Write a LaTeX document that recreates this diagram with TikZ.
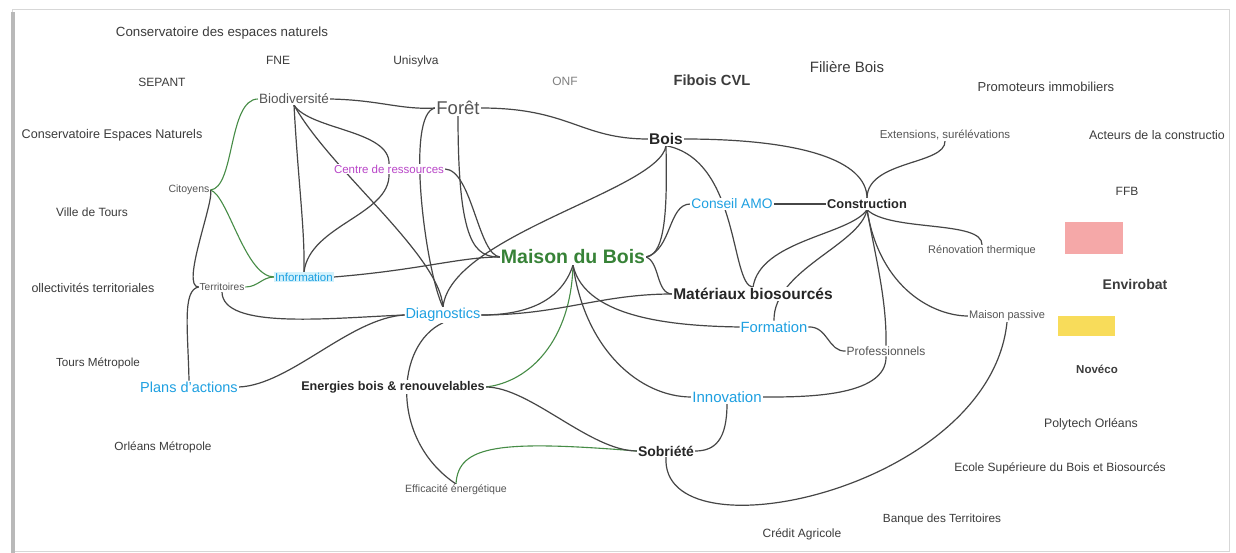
\documentclass[tikz,border=0pt]{standalone}
\usepackage{fontspec}
\setmainfont{Liberation Sans}
\newcommand{\fsz}[1]{\fontsize{#1}{#1}\selectfont}
\definecolor{peritext}{RGB}{60,60,60}
\definecolor{mmgray}{RGB}{85,85,85}
\definecolor{linkgray}{RGB}{70,70,70}
\definecolor{linkgreen}{RGB}{70,140,70}
\definecolor{mmblue}{RGB}{30,160,225}
\definecolor{mmpurple}{RGB}{185,70,200}
\definecolor{mmgreen}{RGB}{55,130,55}
\definecolor{infobg}{RGB}{212,242,252}
\definecolor{pinknote}{RGB}{245,168,168}
\definecolor{yellownote}{RGB}{248,220,90}
\definecolor{framegray}{RGB}{215,215,215}
\definecolor{framebar}{RGB}{185,185,185}
\pgfdeclarelayer{background}
\pgfsetlayers{background,main}
\begin{document}
\begin{tikzpicture}[x=1pt,y=-1pt,
  every node/.style={inner sep=1pt, outer sep=0pt},
  peri/.style={text=peritext, font=\fsz{12}},
  mm/.style={fill=white, inner sep=1pt},
  link/.style={draw=linkgray, line width=1.2pt},
  glink/.style={draw=linkgreen, line width=1.1pt}]
\useasboundingbox (0,0) rectangle (1236,553);

% peripheral texts
\node[peri, font=\fsz{13.3}] (consv) at (222,33) {Conservatoire des espaces naturels};
\node[peri] (fne) at (278,60) {FNE};
\node[peri] (unis) at (416,61) {Unisylva};
\node[peri] (sepant) at (162,82) {SEPANT};
\node[peri, text=gray] (onf) at (565,81) {ONF};
\node[peri, font=\bfseries\fsz{14.7}] (fibois) at (712,80) {Fibois CVL};
\node[peri, font=\fsz{15}] (filiere) at (847,67) {Filière Bois};
\node[peri, font=\fsz{13}] (promo) at (1046,87) {Promoteurs immobiliers};
\node[peri, font=\fsz{12.6}] (consEN) at (112,135) {Conservatoire Espaces Naturels};
\node[peri, font=\fsz{12.4}] (acteurs) at (1157,135) {Acteurs de la constructio};
\node[peri] (ffb) at (1127,191) {FFB};
\node[peri] (ville) at (92,212) {Ville de Tours};
\node[peri, font=\fsz{12.5}] (collect) at (93,288) {ollectivités territoriales};
\node[peri, font=\fsz{11.7}] (toursM) at (98,363) {Tours Métropole};
\node[peri, font=\fsz{11.8}] (orleansM) at (163,447) {Orléans Métropole};
\node[peri, font=\bfseries\fsz{14}] (envirobat) at (1135,284) {Envirobat};
\node[peri, font=\bfseries\fsz{11.5}] (noveco) at (1097,369) {Novéco};
\node[peri, font=\fsz{12.3}] (polytech) at (1091,424) {Polytech Orléans};
\node[peri] (ecole) at (1060,468) {Ecole Supérieure du Bois et Biosourcés};
\node[peri, font=\fsz{11.8}] (banque) at (942,519) {Banque des Territoires};
\node[peri] (credit) at (802,534) {Crédit Agricole};
\node[fill=pinknote, minimum width=58, minimum height=32] (pink) at (1094,238) {};
\node[fill=yellownote, minimum width=57, minimum height=20] (yellow) at (1086,326) {};

% mind map nodes
\node[mm, text=mmgreen, font=\bfseries\fsz{19.5}] (mdb) at (573,257) {Maison du Bois};
\node[mm, text=mmgray, font=\fsz{18.5}] (foret) at (458,108) {Forêt};
\node[mm, text=black!85, font=\bfseries\fsz{15.5}] (bois) at (666,139) {Bois};
\node[mm, text=mmgray, font=\fsz{13.5}] (biod) at (294,99) {Biodiversité};
\node[mm, text=mmpurple, font=\fsz{11.5}] (centre) at (389,169) {Centre de ressources};
\node[mm, text=mmgray, font=\fsz{10.5}] (cit) at (189,190) {Citoyens};
\node[mm, fill=infobg, text=mmblue, font=\fsz{11.5}] (info) at (304,277) {Information};
\node[mm, text=mmgray, font=\fsz{10.2}] (terr) at (222,287) {Territoires};
\node[mm, text=mmblue, font=\fsz{14.5}] (diag) at (443,315) {Diagnostics};
\node[mm, text=mmblue, font=\fsz{14.5}] (plans) at (189,387) {Plans d'actions};
\node[mm, text=black!85, font=\bfseries\fsz{12.6}] (energ) at (393,387) {Energies bois \& renouvelables};
\node[mm, text=mmgray, font=\fsz{10.6}] (eff) at (456,490) {Efficacité énergétique};
\node[mm, text=black!85, font=\bfseries\fsz{14}] (sob) at (666,451) {Sobriété};
\node[mm, text=mmblue, font=\fsz{15}] (innov) at (727,397) {Innovation};
\node[mm, text=mmblue, font=\fsz{14.8}] (form) at (774,327) {Formation};
\node[mm, text=mmgray, font=\fsz{12}] (prof) at (886,351) {Professionnels};
\node[mm, text=black!85, font=\bfseries\fsz{15.5}] (mat) at (753,294) {Matériaux biosourcés};
\node[mm, text=mmblue, font=\fsz{13.8}] (amo) at (732,204) {Conseil AMO};
\node[mm, text=black!85, font=\bfseries\fsz{12.8}] (cons) at (867,204) {Construction};
\node[mm, text=mmgray, font=\fsz{11}] (renov) at (982,251) {Rénovation thermique};
\node[mm, text=mmgray, font=\fsz{11}] (passive) at (1007,316) {Maison passive};
\node[mm, text=mmgray, font=\fsz{11.5}] (ext) at (945,135) {Extensions, surélévations};

\begin{pgfonlayer}{background}
\fill[white] (0,0) rectangle (1236,553);
% frame
\draw[framegray, line width=1pt] (12,10) rectangle (1229,551);
\fill[framebar] (11,12) rectangle (15,553);
% green connectors
\draw[glink] (cit.east) .. controls (235,188) and (228,99) .. (biod.west);
\draw[glink] (cit.east) .. controls (228,195) and (245,277) .. (info.west);
\draw[glink] (terr.east) .. controls (258,287) and (262,277) .. (info.west);
\draw[glink] (mdb.south) .. controls (571,340) and (530,382) .. (energ.east);
\draw[glink] (eff.north) .. controls (458,445) and (500,440) .. (sob.west);
% dark connectors
\draw[link] (cit.east) .. controls (215,200) and (180,287) .. (terr.west);
\draw[link] (terr.west) .. controls (182,290) and (188,330) .. (plans.north);
\draw[link] (terr.south) .. controls (222,330) and (330,318) .. (diag.west);
\draw[link] (plans.east) .. controls (290,385) and (350,318) .. (diag.west);
\draw[link] (biod.south) .. controls (298,180) and (305,230) .. (info.north);
\draw[link] (biod.south) .. controls (310,130) and (390,130) .. (centre.north);
\draw[link] (centre.south) .. controls (390,215) and (310,225) .. (info.north);
\draw[link] (biod.south) .. controls (330,170) and (440,255) .. (diag.north);
\draw[link] (biod.east) .. controls (380,100) and (400,110) .. (foret.west);
\draw[link] (foret.west) .. controls (405,112) and (425,270) .. (diag.north);
\draw[link] (foret.south) .. controls (458,245) and (475,257) .. (mdb.west);
\draw[link] (centre.east) .. controls (472,170) and (478,255) .. (mdb.west);
\draw[link] (info.east) .. controls (420,270) and (460,257) .. (mdb.west);
\draw[link] (diag.north) .. controls (450,235) and (660,190) .. (bois.south);
\draw[link] (foret.east) .. controls (570,108) and (580,139) .. (bois.west);
\draw[link] (mdb.east) .. controls (667,255) and (667,200) .. (bois.south);
\draw[link] (mdb.east) .. controls (672,250) and (668,204) .. (amo.west);
\draw[link] (mdb.east) .. controls (660,262) and (656,294) .. (mat.west);
\draw[link] (bois.south) .. controls (740,160) and (730,285) .. (mat.north);
\draw[link] (bois.east) .. controls (800,139) and (867,160) .. (cons.north);
\draw[link] (ext.south) .. controls (946,165) and (867,160) .. (cons.north);
\draw[link] (amo.east) -- (cons.west);
\draw[link] (cons.south) .. controls (850,235) and (760,240) .. (mat.north);
\draw[link] (cons.south) .. controls (860,245) and (773,270) .. (form.north);
\draw[link] (cons.south) .. controls (890,232) and (983,220) .. (renov.north);
\draw[link] (cons.south) .. controls (875,255) and (887,300) .. (prof.north);
\draw[link] (cons.south) .. controls (880,290) and (935,316) .. (passive.west);
\draw[link] (form.east) .. controls (828,326) and (828,352) .. (prof.west);
\draw[link] (prof.south) .. controls (887,398) and (800,397) .. (innov.east);
\draw[link] (mdb.south) .. controls (560,305) and (520,315) .. (diag.east);
\draw[link] (mdb.south) .. controls (585,320) and (680,326) .. (form.west);
\draw[link] (mdb.south) .. controls (585,350) and (640,397) .. (innov.west);
\draw[link] (diag.east) .. controls (560,315) and (600,294) .. (mat.west);
\draw[link] (diag.south) .. controls (395,345) and (390,440) .. (eff.north);
\draw[link] (energ.east) .. controls (530,387) and (590,451) .. (sob.west);
\draw[link] (innov.south) .. controls (727,440) and (715,451) .. (sob.east);
\draw[link] (passive.south) .. controls (990,490) and (660,560) .. (sob.south);
\end{pgfonlayer}
\end{tikzpicture}
\end{document}
